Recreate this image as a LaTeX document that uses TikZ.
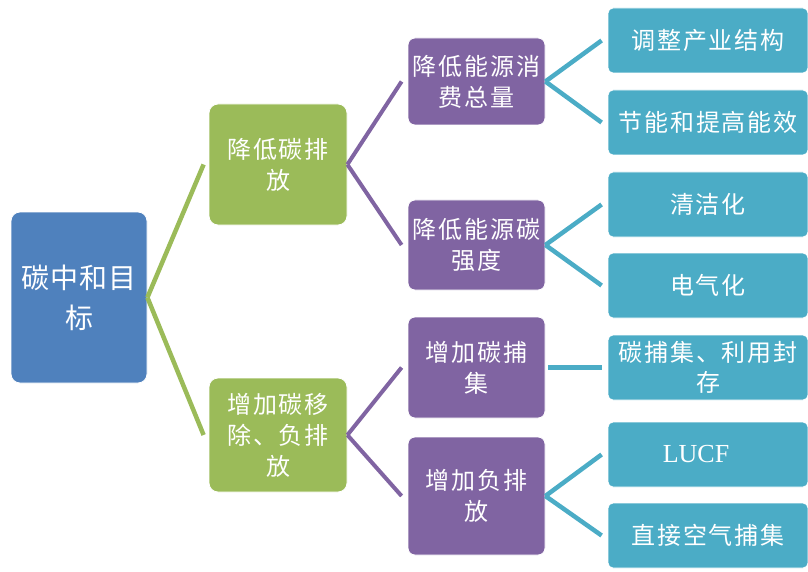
\documentclass[tikz,border=0pt]{standalone}
\usepackage{fontspec}
\setmainfont{Liberation Serif}
\newfontfamily\cjk[LetterSpace=8]{Noto Sans CJK SC}
\newfontfamily\cjkroot[LetterSpace=4]{Noto Sans CJK SC}
\definecolor{cblue}{HTML}{4F81BD}
\definecolor{cgreen}{HTML}{9BBB59}
\definecolor{cpurple}{HTML}{8064A2}
\definecolor{cteal}{HTML}{4BACC6}
\tikzset{
  basebox/.style={rectangle, draw=white, line width=0.8pt, text=white, align=center, inner sep=0pt},
  rootbox/.style={basebox, fill=cblue, rounded corners=9pt, minimum width=136pt, minimum height=171pt, font=\cjkroot\fontsize{28}{40}\selectfont},
  gbox/.style={basebox, fill=cgreen, rounded corners=9pt, minimum width=138pt, font=\cjk\fontsize{24}{31}\selectfont},
  pbox/.style={basebox, fill=cpurple, rounded corners=7pt, minimum width=137pt, font=\cjk\fontsize{24}{31}\selectfont},
  tbox/.style={basebox, fill=cteal, rounded corners=5pt, minimum width=200pt, minimum height=65pt, font=\cjk\fontsize{24}{30}\selectfont},
  gline/.style={draw=cgreen, line width=4.5pt},
  pline/.style={draw=cpurple, line width=4pt},
  tline/.style={draw=cteal, line width=4.5pt}
}
\begin{document}
\begin{tikzpicture}[x=1pt, y=-1pt]
\useasboundingbox (0,0) rectangle (808,572);
\node[rootbox] (root) at (79,297.5) {碳中和目\\标};
\node[gbox, minimum height=121pt] (g1) at (278,164.5) {降低碳排\\放};
\node[gbox, minimum height=114pt] (g2) at (278,435) {增加碳移\\除、负排\\放};
\node[pbox, minimum height=87pt] (p1) at (476.5,81.5) {降低能源消\\费总量};
\node[pbox, minimum height=90pt] (p2) at (476.5,245) {降低能源碳\\强度};
\node[pbox, minimum height=101pt] (p3) at (476.5,367.5) {增加碳捕\\集};
\node[pbox, minimum height=118pt] (p4) at (476.5,496) {增加负排\\放};
\node[tbox] (t1) at (708,40.5) {调整产业结构};
\node[tbox] (t2) at (708,122.5) {节能和提高能效};
\node[tbox] (t3) at (708,204.5) {清洁化};
\node[tbox] (t4) at (708,285.5) {电气化};
\node[tbox] (t5) at (708,367.5) {碳捕集、利用封\\存};
\node[tbox] (t6) at (708,454.5) {};
\node[font=\fontsize{26}{30}\selectfont, text=white] (t6txt) at ([xshift=-12pt]t6.center) {LUCF};
\node[tbox] (t7) at (708,535.5) {直接空气捕集};
\draw[gline] (root.east) -- ([xshift=-5pt]g1.west);
\draw[gline] (root.east) -- ([xshift=-5pt]g2.west);
\draw[pline] (g1.east) -- ([xshift=-6pt]p1.west);
\draw[pline] (g1.east) -- ([xshift=-6pt]p2.west);
\draw[pline] (g2.east) -- ([xshift=-6pt]p3.west);
\draw[pline] (g2.east) -- ([xshift=-6pt]p4.west);
\draw[tline] (p1.east) -- ([xshift=-6pt]t1.west);
\draw[tline] (p1.east) -- ([xshift=-6pt]t2.west);
\draw[tline] (p2.east) -- ([xshift=-6pt]t3.west);
\draw[tline] (p2.east) -- ([xshift=-6pt]t4.west);
\draw[tline] ([xshift=3pt]p3.east) -- ([xshift=-6pt]t5.west);
\draw[tline] (p4.east) -- ([xshift=-6pt]t6.west);
\draw[tline] (p4.east) -- ([xshift=-6pt]t7.west);
\end{tikzpicture}
\end{document}
